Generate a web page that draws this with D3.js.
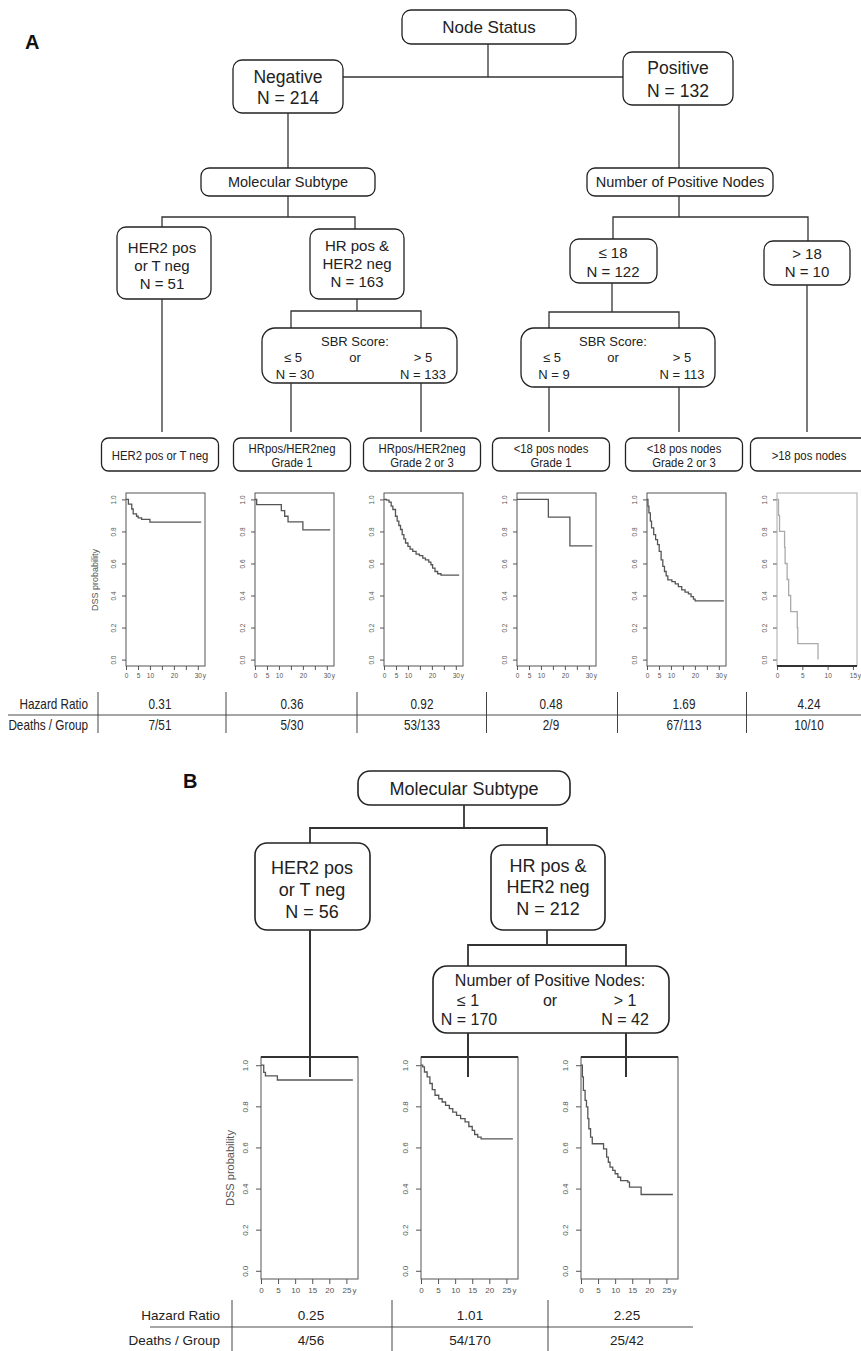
<!DOCTYPE html>
<html lang="en">
<head>
<meta charset="UTF-8">
<script src="https://d3js.org/d3.v7.min.js"></script>
<title>DSS survival tree</title>
<style>
  body { margin: 0; background: #fff; }
  svg text { font-family: "Liberation Sans", Arial, sans-serif; fill: #222; }
  svg text.panel { font-weight: bold; fill: #111; }
  .box { fill: #fff; stroke: #222; }
  .link { fill: none; stroke: #333; }
  .frame { fill: none; stroke: #555; stroke-width: 1; }
  .km { fill: none; stroke: #555; stroke-width: 1.3; }
  .axis line { stroke: #555; }
  .axis text { fill: #555; }
  .sep { stroke: #444; stroke-width: 1; }
  .rule { stroke: #888; stroke-width: 1.6; }
</style>
</head>
<body>
<svg id="fig" width="861" height="1351"></svg>
<script>
// ---- panel A data ----
var branchA = ["Negative", "Positive"];
var branchNA = [214, 132];
var subtypeA = [["HER2 pos", "or T neg"], ["HR pos &", "HER2 neg"]];
var subtypeNA = [51, 163];
var nodeCutA = ["\u2264 18", "> 18"];
var nodeCutNA = [122, 10];
var sbrNA = [[30, 133], [9, 113]];
var leavesA = [["HER2 pos or T neg"], ["HRpos/HER2neg", "Grade 1"], ["HRpos/HER2neg", "Grade 2 or 3"],
               ["<18 pos nodes", "Grade 1"], ["<18 pos nodes", "Grade 2 or 3"], [">18 pos nodes"]];
var hazardA = ["0.31", "0.36", "0.92", "0.48", "1.69", "4.24"];
var deathsA = ["7/51", "5/30", "53/133", "2/9", "67/113", "10/10"];

// KM curves: [years, DSS probability]
var kmA1 = [[0,1],[1.0,0.97],[2.4,0.94],[3.0,0.91],[4.4,0.895],[5.1,0.885],[6.5,0.875],[10,0.858],[31.4,0.858]];
var kmA2 = [[0,1],[0.7,0.967],[11,0.93],[12.4,0.895],[13.8,0.86],[20,0.81],[31.4,0.81]];
var kmA3 = [[0,1],[1.0,0.996],[2.1,0.983],[3.0,0.958],[3.7,0.937],[4.8,0.895],[5.5,0.864],[6.2,0.837],
            [6.9,0.812],[7.6,0.78],[8.3,0.753],[9.0,0.728],[10.0,0.707],[10.9,0.69],[12.0,0.676],
            [13.4,0.659],[14.8,0.649],[16.2,0.634],[17.3,0.623],[18.7,0.609],[19.6,0.592],[20.3,0.571],
            [21.3,0.55],[22.4,0.536],[23.8,0.527],[31.4,0.527]];
var kmA4 = [[0,1],[13.1,0.89],[22.1,0.71],[31.5,0.71]];
var kmA5 = [[0,1],[0.4,0.958],[0.8,0.916],[1.4,0.864],[1.9,0.822],[2.8,0.78],[3.6,0.749],[4.4,0.718],
            [5.1,0.676],[5.9,0.623],[6.6,0.582],[7.3,0.55],[8.0,0.523],[8.7,0.498],[10.4,0.487],
            [11.8,0.473],[13.1,0.456],[14.5,0.435],[15.9,0.421],[17.3,0.41],[18.4,0.393],[19.4,0.377],
            [20.1,0.366],[32.1,0.366]];
var kmA6 = [[0,1],[0.3,0.9],[0.5,0.8],[1.5,0.7],[1.6,0.6],[2.0,0.5],[2.3,0.4],[2.7,0.3],[4.0,0.2],[4.1,0.1],[8.1,0.0]];

// ---- panel B data ----
var subtypeB = [["HER2 pos", "or T neg"], ["HR pos &", "HER2 neg"]];
var subtypeNB = [56, 212];
var nodesNB = [170, 42];
var hazardB = ["0.25", "1.01", "2.25"];
var deathsB = ["4/56", "54/170", "25/42"];
var kmB1 = [[0,1],[0.8,0.965],[1.3,0.948],[4.8,0.928],[26.9,0.928]];
var kmB2 = [[0,1],[0.5,0.992],[1.0,0.967],[1.8,0.943],[2.6,0.911],[3.3,0.881],[4.1,0.854],[5.2,0.837],
            [6.2,0.821],[7.2,0.805],[8.3,0.789],[9.3,0.772],[10.4,0.756],[11.6,0.74],[12.9,0.724],
            [14.0,0.702],[15.0,0.683],[15.7,0.663],[16.6,0.65],[17.6,0.642],[26.9,0.642]];
var kmB3 = [[0,1],[0.4,0.943],[0.7,0.878],[1.2,0.829],[1.6,0.797],[2.0,0.74],[2.3,0.691],[2.8,0.65],
            [3.3,0.618],[6.6,0.593],[7.5,0.553],[8.0,0.528],[8.5,0.504],[9.3,0.488],[10.0,0.472],
            [10.8,0.455],[11.6,0.439],[13.7,0.431],[14.2,0.407],[17.6,0.371],[26.9,0.371]];

// axis ticks
var yTicks = [0, 0.2, 0.4, 0.6, 0.8, 1.0];
var xTicksA = [0, 5, 10, 15, 20, 25, 30];
var xLabelsA = ["0", "5", "10", "", "20", "", "30"];
var xTicksA6 = [0, 5, 10, 15];
var xLabelsA6 = ["0", "5", "10", "15"];
var xTicksB = [0, 5, 10, 15, 20, 25];
var xLabelsB = ["0", "5", "10", "15", "20", "25"];

var svg = d3.select("#fig");

function rbox(x0, y0, x1, y1, rx, sw) {
  return svg.append("rect").attr("class", "box")
    .attr("x", x0).attr("y", y0).attr("width", x1 - x0).attr("height", y1 - y0)
    .attr("rx", rx).attr("ry", rx).style("stroke-width", sw || 1.3);
}
// narrow = horizontally condensed text, like the small labels of the figure
function txt(x, y, s, size, cls, anchor) {
  var t = svg.append("text").attr("dy", "0.35em")
    .attr("class", cls === "panel" ? "panel" : null).style("font-size", size + "px")
    .style("text-anchor", anchor || "middle").text(s);
  if (cls === "narrow") t.attr("transform", "translate(" + x + "," + y + ") scale(0.84,1)");
  else t.attr("x", x).attr("y", y);
  return t;
}
function lines(cx, cy, arr, size, gap, cls) {
  arr.forEach(function(s, i) { txt(cx, cy + (i - (arr.length - 1) / 2) * gap, s, size, cls); });
}
function link(pts, sw) {
  svg.append("path").attr("class", "link").attr("d", d3.line()(pts)).style("stroke-width", sw || 1.3);
}

function kmPlot(c) {
  var x = d3.scaleLinear().domain([0, c.xmax]).range([c.left, c.left + c.width]);
  var y = d3.scaleLinear().domain([-0.04, 1.04]).range([c.bottom, c.top]);
  var g = svg.append("g");

  var ya = g.append("g").attr("class", "axis")
      .attr("transform", "translate(" + c.left + ",0)")
      .call(d3.axisLeft(y).tickValues(yTicks).tickFormat(d3.format(".1f")).tickSize(c.tick).tickSizeOuter(0));
  ya.select(".domain").remove();
  ya.selectAll("text")
      .attr("transform", "rotate(-90)")
      .attr("x", 0).attr("y", -c.ylab).attr("dy", "0.35em")
      .style("text-anchor", "middle").style("font-size", c.font + "px");

  var xa = g.append("g").attr("class", "axis")
      .attr("transform", "translate(0," + c.bottom + ")")
      .call(d3.axisBottom(x).tickValues(c.xticks)
        .tickFormat(function(d, i) { return c.xlabels[i]; })
        .tickSize(c.tick).tickSizeOuter(0));
  xa.select(".domain").remove();
  xa.selectAll("text").style("font-size", c.font + "px");
  var last = c.xticks[c.xticks.length - 1];
  g.append("text")
      .attr("x", x(last) + c.font * 0.75).attr("y", c.bottom + c.tick + 3).attr("dy", "0.71em")
      .style("font-size", c.font + "px").style("fill", "#555").text("y");

  g.append("rect").attr("class", "frame")
      .attr("x", c.left).attr("y", c.top)
      .attr("width", c.width).attr("height", c.bottom - c.top)
      .style("stroke", c.frameColor || "#555");
  if (c.topRule) {
    g.append("line").attr("x1", c.left).attr("x2", c.left + c.width)
      .attr("y1", c.top).attr("y2", c.top).style("stroke", "#333").style("stroke-width", 2);
  }
  if (c.bottomRule) {
    g.append("line").attr("x1", c.left).attr("x2", c.left + c.width)
      .attr("y1", c.bottom).attr("y2", c.bottom).style("stroke", "#333").style("stroke-width", 2);
  }

  g.append("path").datum(c.data).attr("class", "km")
      .style("stroke", c.color || "#555")
      .attr("d", d3.line().x(function(d) { return x(d[0]); })
                         .y(function(d) { return y(d[1]); })
                         .curve(d3.curveStepAfter));
}

// =================== PANEL A ===================
txt(25, 42, "A", 20, "panel", "start");

rbox(402, 10, 576, 44, 9);
txt(489, 27, "Node Status", 17);
link([[488, 44], [488, 77]]);
link([[343, 77], [623, 77]]);

rbox(233, 60, 343, 113, 9);
lines(288, 87.5, [branchA[0], "N = " + branchNA[0]], 17.5, 21);
rbox(623, 52, 733, 105, 9);
lines(678, 79.5, [branchA[1], "N = " + branchNA[1]], 17.5, 23);

link([[288, 113], [288, 168]]);
link([[679, 105], [679, 168]]);

rbox(201, 168, 375, 196, 8);
txt(288, 182, "Molecular Subtype", 14.5);
rbox(587, 168, 773, 196, 8);
txt(680, 182, "Number of Positive Nodes", 14.5);

link([[288, 196], [288, 217]]);
link([[162, 227], [162, 217], [355, 217], [355, 229]]);
link([[679, 196], [679, 217]]);
link([[613, 239], [613, 217], [808, 217], [808, 241]]);

rbox(117, 227, 211, 299, 9);
lines(162, 266, subtypeA[0].concat(["N = " + subtypeNA[0]]), 15, 18);
rbox(310, 229, 404, 299, 9);
lines(357, 264, subtypeA[1].concat(["N = " + subtypeNA[1]]), 15, 18);

rbox(570, 239, 657, 283, 9);
lines(613, 262.5, [nodeCutA[0], "N = " + nodeCutNA[0]], 15, 19);
rbox(764, 241, 850, 285, 9);
lines(807, 263, [nodeCutA[1], "N = " + nodeCutNA[1]], 15, 18);

link([[162, 299], [162, 432]]);
link([[357, 299], [357, 311]]);
link([[291, 328], [291, 311], [421, 311], [421, 328]]);
link([[612, 283], [612, 312]]);
link([[549, 328], [549, 312], [679, 312], [679, 328]]);
link([[807, 285], [807, 432]]);

// SBR score boxes
function sbrBox(x0, x1, y1, cx, lc, rc, n) {
  rbox(x0, 328, x1, y1, 13);
  txt(cx, 341, "SBR Score:", 13);
  txt(lc, 357, "\u2264 5", 13);
  txt(cx, 357, "or", 13);
  txt(rc, 357, "> 5", 13);
  txt(lc + 2, 374, "N = " + n[0], 13);
  txt(rc, 374, "N = " + n[1], 13);
}
sbrBox(262, 457, 383, 355, 293, 423, sbrNA[0]);
sbrBox(521, 715, 387, 613, 552, 682, sbrNA[1]);

link([[291, 383], [291, 432]]);
link([[421, 383], [421, 432]]);
link([[549, 387], [549, 432]]);
link([[679, 387], [679, 432]]);

// leaf labels
var leafX = [160, 292, 422, 551, 684, 809];
leavesA.forEach(function(lab, i) {
  rbox(leafX[i] - 58.5, 438, leafX[i] + 58.5, 471, 7);
  lines(leafX[i], 455, lab, 13.5, 14, "narrow");
});

// survival plots
var plotLeftA = [126, 255, 384, 517, 647, 777];
var curvesA = [kmA1, kmA2, kmA3, kmA4, kmA5, kmA6];
curvesA.forEach(function(data, i) {
  var last = i === 5;
  kmPlot({
    left: plotLeftA[i], width: last ? 80 : 79, top: 493, bottom: 666,
    xmax: last ? 15.8 : 33,
    xticks: last ? xTicksA6 : xTicksA, xlabels: last ? xLabelsA6 : xLabelsA,
    tick: 4, ylab: 12, font: 6.5, data: data,
    color: last ? "#aaa" : "#555",
    frameColor: last ? "#aaa" : "#555",
    bottomRule: last
  });
});
svg.append("text").attr("transform", "translate(95,580) rotate(-90)")
  .attr("dy", "0.35em").style("text-anchor", "middle").style("font-size", "9px")
  .style("fill", "#555").text("DSS probability");

// table A
var sepA = [98];
for (var i = 1; i < leafX.length; i++) sepA.push((leafX[i - 1] + leafX[i]) / 2);
svg.append("line").attr("class", "rule").attr("x1", 8).attr("x2", 861).attr("y1", 715).attr("y2", 715);
sepA.forEach(function(s) {
  svg.append("line").attr("class", "sep").attr("x1", s).attr("x2", s).attr("y1", 692).attr("y2", 733);
});
txt(88, 704, "Hazard Ratio", 14, "narrow", "end");
txt(88, 725, "Deaths / Group", 14, "narrow", "end");
hazardA.forEach(function(v, i) { txt(leafX[i], 704, v, 14, "narrow"); });
deathsA.forEach(function(v, i) { txt(leafX[i], 725, v, 14, "narrow"); });

// =================== PANEL B ===================
txt(183, 781, "B", 20, "panel", "start");

rbox(358, 771, 570, 805, 12, 1.6);
txt(464, 789, "Molecular Subtype", 18);
link([[464, 805], [464, 828]], 1.8);
link([[310, 843], [310, 828], [547, 828], [547, 845]], 1.8);

rbox(255, 843, 370, 930, 12, 1.6);
lines(312, 890, subtypeB[0].concat(["N = " + subtypeNB[0]]), 18, 22);
rbox(491, 845, 605, 930, 12, 1.6);
lines(548, 887, subtypeB[1].concat(["N = " + subtypeNB[1]]), 18, 21.5);

link([[547, 930], [547, 945]], 1.8);
link([[468, 966], [468, 945], [626, 945], [626, 966]], 1.8);

rbox(433, 966, 669, 1033, 14, 1.6);
txt(550, 980, "Number of Positive Nodes:", 16);
txt(468, 1000, "\u2264 1", 16);
txt(550, 1000, "or", 16);
txt(625, 1000, "> 1", 16);
txt(469, 1019, "N = " + nodesNB[0], 16);
txt(625, 1019, "N = " + nodesNB[1], 16);

var plotLeftB = [261, 421, 581];
var colB = [311, 470, 627];
[kmB1, kmB2, kmB3].forEach(function(data, i) {
  kmPlot({
    left: plotLeftB[i], width: 97, top: 1057, bottom: 1279, xmax: 28.4,
    xticks: xTicksB, xlabels: xLabelsB, tick: 5, ylab: 16, font: 8,
    data: data, topRule: true
  });
});
svg.append("text").attr("transform", "translate(230,1168) rotate(-90)")
  .attr("dy", "0.35em").style("text-anchor", "middle").style("font-size", "11px")
  .style("fill", "#555").text("DSS probability");

// stems running into the plots
link([[310, 930], [310, 1077]], 2);
link([[468, 1033], [468, 1077]], 2);
link([[626, 1033], [626, 1077]], 2);

// table B
svg.append("line").attr("class", "rule").attr("x1", 150).attr("x2", 693).attr("y1", 1327).attr("y2", 1327);
[232, 392, 548].forEach(function(s) {
  svg.append("line").attr("class", "sep").attr("x1", s).attr("x2", s).attr("y1", 1300).attr("y2", 1351);
});
txt(220, 1315, "Hazard Ratio", 13.5, null, "end");
txt(220, 1340, "Deaths / Group", 13.5, null, "end");
hazardB.forEach(function(v, i) { txt(colB[i], 1315, v, 13.5); });
deathsB.forEach(function(v, i) { txt(colB[i], 1340, v, 13.5); });
</script>
</body>
</html>
